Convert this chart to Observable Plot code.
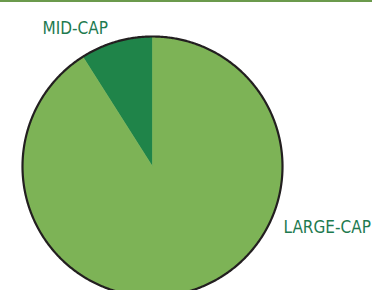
<!DOCTYPE html>
<html>
<head>
<meta charset="utf-8">
<script src="https://cdn.jsdelivr.net/npm/d3@7"></script>
<script src="https://cdn.jsdelivr.net/npm/@observablehq/plot@0.6"></script>
<style>
  html, body { margin: 0; padding: 0; background: #fff; }
  #wrap { position: relative; width: 372px; height: 290px; overflow: hidden; }
  #topline { position: absolute; left: 0; top: 0; width: 372px; height: 2px; background: #6b9a4c; }
  #wrap svg { position: absolute; left: 0; top: 0; }
</style>
</head>
<body>
<div id="wrap"><div id="topline"></div></div>
<script>
const categories = ["MID-CAP", "LARGE-CAP"];
const values = [9, 91];
const colors = ["#1f8449", "#7db356"];

const total = d3.sum(values);
const start = -2 * Math.PI * values[0] / total;
const arcs = d3.pie().sort(null).startAngle(start).endAngle(start + 2 * Math.PI)(values);

// slice outlines in unit-circle coordinates (geometry of each arc)
const slicePts = [];
arcs.forEach((a, i) => {
  const n = Math.max(2, Math.ceil((a.endAngle - a.startAngle) / (Math.PI / 360)));
  slicePts.push({cat: categories[i], x: 0, y: 0});
  for (let k = 0; k <= n; k++) {
    const t = a.startAngle + (a.endAngle - a.startAngle) * k / n;
    slicePts.push({cat: categories[i], x: Math.sin(t), y: Math.cos(t)});
  }
  slicePts.push({cat: categories[i], x: 0, y: 0});
});
const ring = d3.range(0, 721).map(k => {
  const t = 2 * Math.PI * k / 720;
  return {x: Math.sin(t), y: Math.cos(t)};
});

const font = "'DejaVu Sans Condensed', 'DejaVu Sans', sans-serif";
const chart = Plot.plot({
  width: 372,
  height: 290,
  margin: 0,
  style: {background: "transparent", overflow: "visible"},
  x: {domain: [-1, 1], range: [22, 282], axis: null},
  y: {domain: [-1, 1], range: [296, 36], axis: null},
  color: {domain: categories, range: colors},
  marks: [
    Plot.line(slicePts, {x: "x", y: "y", z: "cat", fill: "cat", stroke: "cat", strokeWidth: 0.6, curve: "linear"}),
    Plot.line(ring, {x: "x", y: "y", stroke: "#231f20", strokeWidth: 2.2, curve: "linear"}),
    Plot.text([categories[0]], {frameAnchor: "top-left", text: d => d, dx: 42, dy: 21, textAnchor: "start", fill: "#1e7a50", fontSize: 17, fontFamily: font}),
    Plot.text([categories[1]], {frameAnchor: "top-left", text: d => d, dx: 283, dy: 220, textAnchor: "start", fill: "#1e7a50", fontSize: 17, fontFamily: font})
  ]
});
document.getElementById("wrap").appendChild(chart);
</script>
</body>
</html>
